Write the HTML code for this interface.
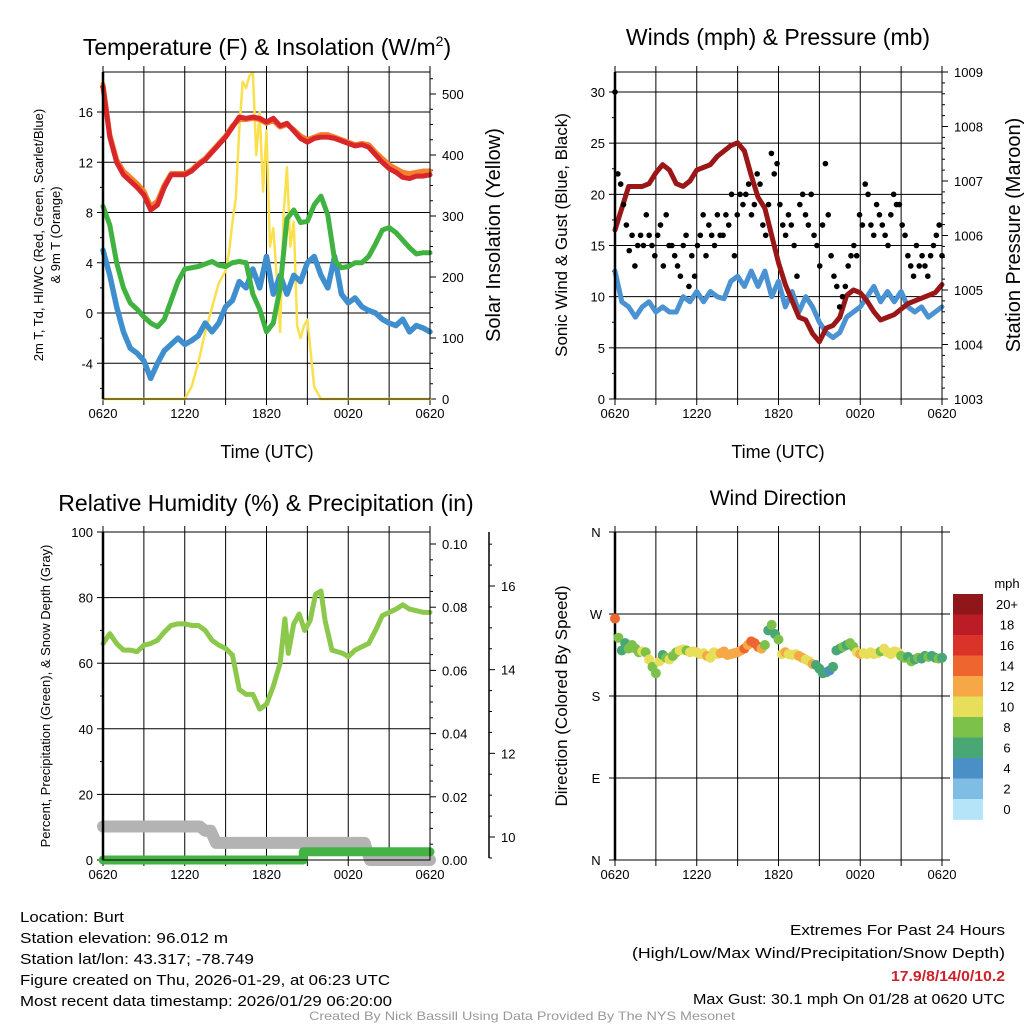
<!DOCTYPE html>
<html><head><meta charset="utf-8"><title>Burt Meteogram</title>
<style>
html,body{margin:0;padding:0;background:#fff;}
svg{display:block;font-family:"Liberation Sans",sans-serif;}
.ft{font-family:"Liberation Sans Narrow","Liberation Sans",sans-serif;font-size:15px;}
</style></head>
<body>
<svg id="fig" width="1024" height="1024" viewBox="0 0 1024 1024" xmlns="http://www.w3.org/2000/svg">
<g id="root"></g>
<text class="ft" x="20" y="922" textLength="104" lengthAdjust="spacingAndGlyphs">Location: Burt</text>
<text class="ft" x="20" y="943" textLength="208" lengthAdjust="spacingAndGlyphs">Station elevation: 96.012 m</text>
<text class="ft" x="20" y="964" textLength="234" lengthAdjust="spacingAndGlyphs">Station lat/lon: 43.317; -78.749</text>
<text class="ft" x="20" y="985" textLength="370" lengthAdjust="spacingAndGlyphs">Figure created on Thu, 2026-01-29, at 06:23 UTC</text>
<text class="ft" x="20" y="1006" textLength="372" lengthAdjust="spacingAndGlyphs">Most recent data timestamp: 2026/01/29 06:20:00</text>
<text class="ft" x="790" y="935" textLength="215" lengthAdjust="spacingAndGlyphs">Extremes For Past 24 Hours</text>
<text class="ft" x="632" y="958" textLength="373" lengthAdjust="spacingAndGlyphs">(High/Low/Max Wind/Precipitation/Snow Depth)</text>
<text class="ft" x="891" y="981" textLength="114" lengthAdjust="spacingAndGlyphs" fill="#d0202a" font-weight="bold">17.9/8/14/0/10.2</text>
<text class="ft" x="693" y="1004" textLength="312" lengthAdjust="spacingAndGlyphs">Max Gust: 30.1 mph On 01/28 at 0620 UTC</text>
<text x="309" y="1020" textLength="426" lengthAdjust="spacingAndGlyphs" fill="#999" font-size="12" font-family="Liberation Sans Narrow, Liberation Sans, sans-serif">Created By Nick Bassill Using Data Provided By The NYS Mesonet</text>
</svg>
<script>
// ---------- data ----------
const halfHours = [0,0.5,1,1.5,2,2.5,3,3.5,4,4.5,5,5.5,6,6.5,7,7.5,8,8.5,9,9.5,10,10.5,11,11.5,12,12.5,13,13.5,14,14.5,15,15.5,16,16.5,17,17.5,18,18.5,19,19.5,20,20.5,21,21.5,22,22.5,23,23.5,24];
const xTickLabels = ["0620","1220","1820","0020","0620"];
const tempRed = [18,14,12,11,10.5,10,9.4,8.2,8.6,10,11,11,11,11.3,11.8,12.2,12.8,13.4,14,14.8,15.6,15.5,15.6,15.5,15.2,15.5,14.9,15.1,14.5,13.9,13.6,13.9,14,14,13.9,13.7,13.5,13.3,13.4,13.2,12.6,12,11.5,11.2,10.8,10.7,10.9,10.9,11];
const temp9m = [18.2,14.2,12.2,11.3,10.8,10.3,9.7,8.5,8.9,10.2,11.1,11.1,11.1,11.4,11.9,12.3,12.9,13.5,14.1,14.9,15.4,15.4,15.5,15.4,15.1,15.3,14.8,15.0,14.6,14.1,13.8,14.0,14.2,14.2,14.0,13.8,13.6,13.4,13.5,13.4,12.8,12.3,11.8,11.5,11.2,11.1,11.2,11.3,11.3];
const dewGreen = [8.5,7,4,2,0.8,0.3,-0.3,-0.8,-1.1,-0.5,1,2.5,3.5,3.6,3.7,3.9,4.1,3.8,3.7,4,4.1,4.0,1.5,0.3,-1.5,-0.8,2.0,7.5,8.2,7.2,7.3,8.6,9.3,7.8,4.2,3.6,3.7,4,4,4.5,5.5,6.6,6.8,6.4,5.8,5.2,4.7,4.8,4.8];
const chillBlue = [5,3,0.5,-1.5,-2.8,-3.2,-3.8,-5.2,-4,-3,-2.5,-2,-2.5,-2.2,-1.8,-0.8,-1.5,-0.8,0.5,1,2.5,2,3.5,2,4.5,1.5,3,1.5,3,2.5,4,4.5,3,2,4.5,1.5,0.8,1.2,0.5,0.2,0,-0.5,-0.8,-1,-0.5,-1.5,-1,-1.2,-1.5];
const solarHours = [0,6,6.5,7,7.5,8,8.5,9,9.25,9.5,9.75,10,10.25,10.5,10.75,11,11.25,11.5,11.75,12,12.25,12.5,12.75,13,13.25,13.5,13.75,14,14.25,14.5,14.75,15,15.5,16,24];
const solarValues = [0,0,20,60,110,150,190,210,240,290,330,440,520,510,530,535,400,470,340,440,250,280,200,110,300,380,250,290,120,100,120,130,20,0,0];
const pressure = [1006.1,1006.5,1006.9,1006.9,1006.9,1006.95,1007.15,1007.3,1007.2,1006.95,1006.9,1007.0,1007.2,1007.25,1007.3,1007.45,1007.55,1007.65,1007.7,1007.55,1007.1,1006.7,1006.5,1006.0,1005.5,1005.1,1004.8,1004.5,1004.45,1004.2,1004.05,1004.3,1004.35,1004.5,1004.9,1005.0,1004.95,1004.8,1004.6,1004.45,1004.5,1004.55,1004.65,1004.75,1004.8,1004.85,1004.9,1004.95,1005.1];
const sonicWind = [12.5,9.5,9,8,9,9.5,8.5,9,8.5,8.5,10,9.5,10.5,9.5,10.5,10,9.8,11.5,12,11,12.5,11,12.5,10,11.5,9,10.5,8.5,10,9,7.5,6.5,6,6.5,8,8.5,9,10,11,9.5,10.5,9.5,10.5,9,8.5,9,8,8.5,9];
const gusts = [30,22,21,19,17,14.5,16,13,15,16,15,18,16,15,14,16,17,13,18,15,15,14,13,12,15,16,11,14,12,15,16,18,14,17,16,15,18,16,16,18,17,20,14,18,20,19,20,21,18,19,22,21,17,16,19,24,22,23,19,17,16,18,17,15,12,19,20,18,17,20,16,15,13,17,23,18,14,12,11,9,10,11,13,14,15,14,18,17,21,20,17,16,19,18,17,16,15,18,20,19,19,17,16,14,13,12,15,13,14,13,12,14,15,16,17,14];
const rhHours = [0,0.5,1,1.5,2,2.5,3,3.5,4,4.5,5,5.5,6,6.5,7,7.5,8,8.5,9,9.5,10,10.5,11,11.5,12,12.5,13,13.35,13.6,14,14.4,14.8,15.2,15.6,16,16.3,16.8,17.2,17.6,18,18.5,19,19.5,20,20.5,21,21.5,22,22.5,23,23.5,24];
const rhValues = [66,69,66,64,64,63.5,65.5,66,67,69.5,71.5,72,72,71.5,71.5,70,67,65.5,64.5,62.5,52,50.5,50.5,46,47.5,53,60,73.5,63,72,75,70,73,81,82,73,64,63.5,63,62,64,65,66,70,74.5,75.5,76.5,77.8,76.5,76,75.5,75.5];
const precipHours = [0,14.7,14.7,24];
const precipValues = [0,0,0.0026,0.0026];
const snowHours = [0,7.1,7.5,7.9,8.3,19.2,19.6,24];
const snowValues = [10.25,10.25,10.15,10.15,9.86,9.86,9.45,9.45];
const dirValues = [265,244,230,238,232,236,232,228,229,228,220,212,205,218,225,222,220,224,228,230,231,230,228,229,228,226,227,224,222,228,226,227,229,225,226,227,228,230,232,236,240,238,234,232,236,252,258,248,242,226,228,226,225,226,224,222,220,218,215,214,210,205,206,208,212,230,232,234,236,238,234,228,226,227,226,228,226,227,229,232,228,226,229,228,224,222,223,218,220,222,221,224,223,224,222,221,222];
const dirSpeeds = [14,8,7,6,8,8,9,9,10,9,10,8,9,10,7,8,10,8,9,10,10,9,10,11,10,11,10,12,10,11,10,12,12,12,12,13,12,13,14,13,15,15,14,13,8,7,9,7,8,11,12,10,10,11,12,12,10,10,12,7,6,6,6,5,6,7,7,8,7,8,9,10,12,10,11,10,10,10,9,10,11,10,10,11,9,8,7,8,6,8,7,7,8,7,7,8,7];
const speedBinLabels = ["0","2","4","6","8","10","12","14","16","18","20+"];
const speedBinColors = ["#b5e3f8","#7fbde4","#4a8fc6","#48a774","#7cc24a","#e7df5a","#f6a846","#ee6530","#da3329","#bb1c25","#8f1619"];

// ---------- helpers ----------
const NS = "http://www.w3.org/2000/svg";
const root = document.getElementById("root");
function mk(tag, attrs, parent, txt){
  const e = document.createElementNS(NS, tag);
  for (const k in attrs) e.setAttribute(k, attrs[k]);
  if (txt !== undefined) e.textContent = txt;
  (parent || root).appendChild(e);
  return e;
}
function lin(d0,d1,r0,r1){ return v => r0 + (v-d0)*(r1-r0)/(d1-d0); }
function pathFrom(xs, ys, fx, fy){
  let d = "";
  for (let i=0;i<xs.length;i++) d += (i?"L":"M") + fx(xs[i]).toFixed(2) + "," + fy(ys[i]).toFixed(2);
  return d;
}
const L=103, R=430, T=72, B=399;
function frame(ox, oy, name){
  const g = mk("g",{transform:`translate(${ox},${oy})`});
  
  
  return g;
}
const xH = lin(0,24,L,R);
function xGrid(g, bottomY, topY, labels){
  for (let h=0; h<=24; h+=3){
    const l = mk("line",{x1:xH(h),x2:xH(h),y1:topY,y2:bottomY,stroke:"#000","stroke-width":1},g);
    
    
    const tk = mk("line",{x1:xH(h),x2:xH(h),y1:bottomY,y2:bottomY+6,stroke:"#000"},g);
    
    
    const tk2 = mk("line",{x1:xH(h),x2:xH(h),y1:topY,y2:topY-6,stroke:"#000"},g);
    
    
  }
  if (labels){
    labels.forEach((s,i)=>{
      const t = mk("text",{x:xH(i*6),y:bottomY+19,"text-anchor":"middle","font-size":13},g,s);
      
      
    });
  }
}
function yAxis(g, fy, vmin, vmax, major, minor, side, x, fmt, grid, name){
  const dir = side==="left" ? -1 : 1;
  const n = Math.round((vmax-vmin)/minor);
  for (let i=0; i<=n; i++){
    const v = vmin + i*minor;
    const isMaj = Math.abs(v/major - Math.round(v/major))<1e-6;
    const y = fy(v);
    const tk = mk("line",{x1:x,x2:x+dir*(isMaj?6:3),y1:y,y2:y,stroke:"#000"},g);
    
    
    if (isMaj){
      const t = mk("text",{x:x+dir*(side==="left"?10:12),y:y+5,"text-anchor":side==="left"?"end":"start","font-size":13},g,fmt(v));
      
      
      if (grid){
        const gl = mk("line",{x1:L,x2:R,y1:y,y2:y,stroke:"#000"},g);
        
        
      }
    }
  }
}
function title(g, x, y, size, s, name, rot){
  const a = {x:x,y:y,"text-anchor":"middle","font-size":size};
  if (rot) a.transform = `rotate(-90 ${x} ${y})`;
  const t = mk("text",a,g,s);
  
  
  return t;
}
function series(g, xs, ys, fy, color, w, name, cap){
  const p = mk("path",{d:pathFrom(xs,ys,xH,fy),fill:"none",stroke:color,"stroke-width":w,"stroke-linejoin":"round","stroke-linecap":cap||"round"},g);
  
  
  return p;
}
function border(g){
  const r = mk("rect",{x:L,y:T,width:R-L,height:B-T,fill:"none",stroke:"#000"},g);
  
  
  const al = mk("line",{x1:L,x2:L,y1:T,y2:B,stroke:"#000","stroke-width":2.5},g);
  
  
}

// ---------- panel 1: temperature ----------
(function(){
  const g = frame(0,0,'temperature-panel');
  const fy = lin(0,16,313,112);
  const fs = lin(0,500,399,94);
  xGrid(g,B,T,xTickLabels);
  yAxis(g,fy,-6,18,4,2,"left",L,v=>String(Math.round(v)),true,'temp-axis');
  yAxis(g,fs,0,525,100,25,"right",R,v=>String(Math.round(v)),false,'solar-axis');
  series(g,solarHours,solarValues,fs,"#fbe04e",2.5,'solar-line');
  series(g,halfHours,chillBlue,fy,"#3f8fcf",5.5,'windchill-line');
  series(g,halfHours,dewGreen,fy,"#3fb23f",5,'dewpoint-line');
  series(g,halfHours,temp9m,fy,"#f57f2a",5,'temp-9m-line');
  series(g,halfHours,tempRed,fy,"#d8262b",5,'temp-2m-line');
  border(g);
  const tt = title(g,267,55,23,"Temperature (F) & Insolation (W/m",'temp-title');
  const sup = mk("tspan",{"font-size":14,dy:-9},tt,"2");  
  const cl = mk("tspan",{dy:9},tt,")");  
  title(g,267,458,18,"Time (UTC)",'temp-x-title');
  title(g,43,235,13,"2m T, Td, HI/WC (Red, Green, Scarlet/Blue)",'temp-y-title-1',true);
  title(g,60,235,13,"& 9m T (Orange)",'temp-y-title-2',true);
  title(g,500,235,20,"Solar Insolation (Yellow)",'solar-y-title',true);
})();

// ---------- panel 2: winds ----------
(function(){
  const g = frame(512,0,'winds-panel');
  const fy = lin(0,30,399,92);
  const fp = lin(1003,1009,399,72);
  xGrid(g,B,T,xTickLabels);
  yAxis(g,fy,0,30,5,2.5,"left",L,v=>String(Math.round(v)),true,'wind-axis');
  yAxis(g,fp,1003,1009,1,0.2,"right",R,v=>String(Math.round(v)),false,'pressure-axis');
  mk("line",{x1:L,x2:R,y1:T,y2:T,stroke:"#000"},g);
  series(g,halfHours,sonicWind,fy,"#4a92d2",5,'sonic-wind-line');
  series(g,halfHours,pressure,fp,"#9b1717",5,'pressure-line');
  gusts.forEach((v,i)=>{
    const c = mk("circle",{cx:xH(i*24/(gusts.length-1)),cy:fy(v),r:2.8,fill:"#000"},g);
    
    
  });
  border(g);
  title(g,266,45,23,"Winds (mph) & Pressure (mb)",'winds-title');
  title(g,266,458,18,"Time (UTC)",'winds-x-title');
  title(g,55,235,17,"Sonic Wind & Gust (Blue, Black)",'winds-y-title',true);
  title(g,508,235,20,"Station Pressure (Maroon)",'pressure-y-title',true);
})();

// ---------- panel 3: humidity ----------
(function(){
  const g = frame(0,460,'humidity-panel');
  const fy = lin(0,100,400,72);
  const fpr = lin(0,0.1,400,84);
  const fsd = lin(10,16,377,126);
  xGrid(g,400,T,xTickLabels);
  yAxis(g,fy,0,100,20,10,"left",L,v=>String(Math.round(v)),false,'rh-axis');
  [20,40,60,80,100].forEach(v=>{ const l=mk("line",{x1:L,x2:R,y1:fy(v),y2:fy(v),stroke:"#000"},g);   });
  yAxis(g,fpr,0,0.1,0.02,0.005,"right",R,v=>v.toFixed(2),false,'precip-axis');
  const sx = 489;
  const sl = mk("line",{x1:sx,x2:sx,y1:72,y2:398,stroke:"#000","stroke-width":1.5},g);
   
  yAxis(g,fsd,9.5,17,2,0.5,"right",sx,v=>String(Math.round(v)),false,'snow-axis');
  series(g,snowHours,snowValues,fsd,"#b3b3b3",12,'snow-depth-line');
  series(g,rhHours,rhValues,fy,"#8cc84b",5,'rh-line');
  series(g,precipHours,precipValues,fpr,"#44b244",9,'precip-line');
  const r = mk("rect",{x:L,y:T,width:R-L,height:400-T,fill:"none",stroke:"#000"},g);
   
  const al = mk("line",{x1:L,x2:L,y1:T,y2:400,stroke:"#000","stroke-width":2.5},g);
   
  title(g,266,51,23,"Relative Humidity (%) & Precipitation (in)",'humidity-title');
  title(g,50,236,13,"Percent, Precipitation (Green), & Snow Depth (Gray)",'humidity-y-title',true);
})();

// ---------- panel 4: wind direction ----------
(function(){
  const g = frame(512,460,'direction-panel');
  const fd = lin(0,360,400,72);
  xGrid(g,400,T,xTickLabels);
  ["N","E","S","W","N"].forEach((s,i)=>{
    const y = fd(i*90);
    const l = mk("line",{x1:L-6,x2:R+8,y1:y,y2:y,stroke:"#000"},g);
     
    const t = mk("text",{x:L-19,y:y+5,"text-anchor":"middle","font-size":13},g,s);
     
  });
  const al = mk("line",{x1:L,x2:L,y1:T,y2:400,stroke:"#000","stroke-width":2.5},g);
   
  dirValues.forEach((d,i)=>{
    const s = dirSpeeds[i];
    const bin = Math.min(10, Math.floor(s/2));
    const c = mk("circle",{cx:xH(i*24/(dirValues.length-1)),cy:fd(d),r:5,fill:speedBinColors[bin]},g);
    
    
  });
  title(g,266,45,21,"Wind Direction",'direction-title');
  title(g,55,236,17,"Direction (Colored By Speed)",'direction-y-title',true);
  // legend
  const lg = mk("g",{},g);
   
  const lt = mk("text",{x:495,y:128,"text-anchor":"middle","font-size":13},lg,"mph");
   
  const bh = 20.5, top = 134;
  for (let i=10;i>=0;i--){
    const y = top + (10-i)*bh;
    const r = mk("rect",{x:441,y:y,width:30,height:bh+0.3,fill:speedBinColors[i]},lg);
     
    const t = mk("text",{x:495,y:y+15,"text-anchor":"middle","font-size":13},lg,speedBinLabels[i]);
     
  }
})();
</script>
</body></html>
